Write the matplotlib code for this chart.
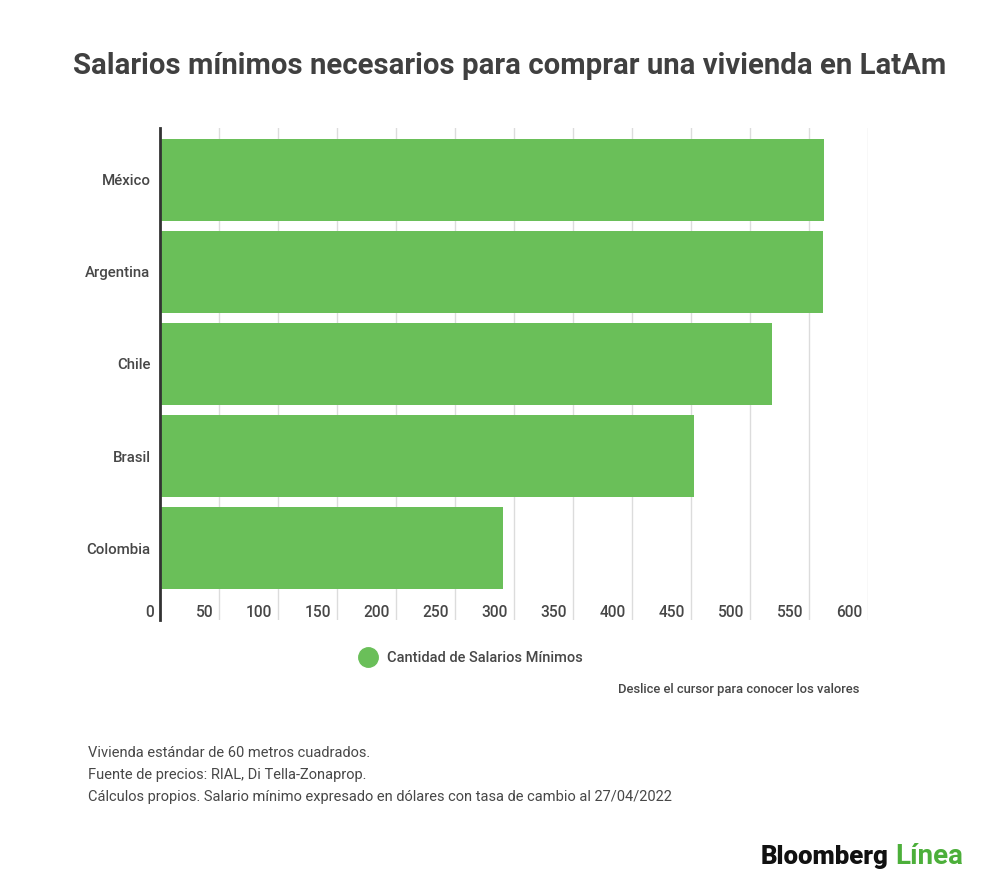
import matplotlib
matplotlib.use("Agg")
import matplotlib.pyplot as plt
from matplotlib.lines import Line2D
from matplotlib.transforms import ScaledTranslation

# data
paises = ["México", "Argentina", "Chile", "Brasil", "Colombia"]
salarios = [562.7, 561.9, 519.0, 452.5, 290.7]
ticks = [0, 50, 100, 150, 200, 250, 300, 350, 400, 450, 500, 550, 600]

GREEN = "#6abf59"
TEXT = "#474747"

plt.rcParams["font.family"] = ["Roboto", "DejaVu Sans"]

fig = plt.figure(figsize=(10, 8.92), dpi=100)
ax = fig.add_axes([0.1603, 0.3049, 0.7077, 0.5516])

ypos = list(range(len(paises)))
ax.barh(ypos, salarios, height=0.89, color=GREEN, zorder=2)
ax.set_xlim(0, 600)
ax.set_ylim(4.78, -0.56)

ax.set_yticks(ypos)
ax.set_yticklabels(paises, fontsize=10.8, color=TEXT, fontweight="medium")
ax.tick_params(axis="y", length=0, pad=7)

ax.set_xticks(ticks)
ax.set_xticklabels([str(t) for t in ticks], fontsize=11.2, color=TEXT,
                   fontweight="medium")
ax.tick_params(axis="x", length=0, pad=-11)
offset = ScaledTranslation(-6 / 100, 0, fig.dpi_scale_trans)
for lab in ax.get_xticklabels():
    lab.set_horizontalalignment("right")
    lab.set_transform(lab.get_transform() + offset)

ax.grid(axis="x", color="#dcdcdc", lw=1, zorder=0)
for s in ["top", "right", "bottom"]:
    ax.spines[s].set_visible(False)
ax.spines["left"].set_color("#333333")
ax.spines["left"].set_linewidth(2)
ax.spines["left"].set_zorder(3)

fig.text(0.51, 1 - 66 / 892, "Salarios mínimos necesarios para comprar una vivienda en LatAm",
         ha="center", va="center", fontsize=21.2, fontweight="bold", color="#404040")

handle = Line2D([], [], marker="o", ls="", color=GREEN, markersize=14)
fig.legend(handles=[handle], labels=["Cantidad de Salarios Mínimos"], loc="center",
           bbox_to_anchor=(0.468, 1 - 658 / 892), frameon=False,
           labelcolor=TEXT, handletextpad=0.3, prop={"weight": "medium", "size": 10.5})

fig.text(0.859, 1 - 690 / 892, "Deslice el cursor para conocer los valores",
         ha="right", va="center", fontsize=9.4, fontweight="medium", color=TEXT)

notas = [
    "Vivienda estándar de 60 metros cuadrados.",
    "Fuente de precios: RIAL, Di Tella-Zonaprop.",
    "Cálculos propios. Salario mínimo expresado en dólares con tasa de cambio al 27/04/2022",
]
for i, nota in enumerate(notas):
    fig.text(0.088, 1 - (753 + 22 * i) / 892, nota, ha="left", va="center",
             fontsize=10.5, color=TEXT)

t = fig.text(0.761, 1 - 857 / 892, "Bloomberg", ha="left", va="center",
             fontsize=18.5, fontweight="heavy", color="#111111")
fig.canvas.draw()
bb = t.get_window_extent()
fig.text((bb.x1 + 6) / fig.bbox.width, 1 - 857 / 892, "Línea", ha="left", va="center",
         fontsize=20, color="#4caf3a", fontweight="bold")

fig.savefig("out.png", dpi=100, facecolor="white")
